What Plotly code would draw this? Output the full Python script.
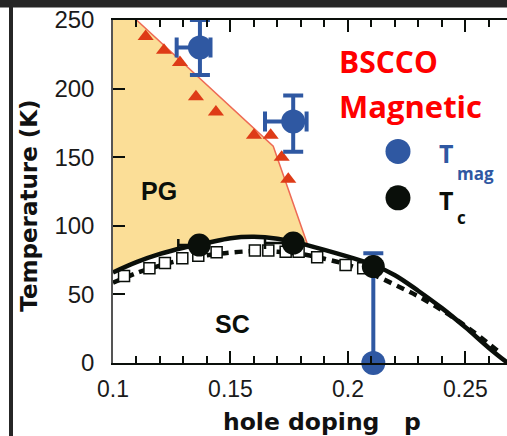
import plotly.graph_objects as go

# ---- data -------------------------------------------------------------
# pseudogap boundary (red line) and the triangle points along it
pg_line_p = [0.110, 0.1682, 0.1831]
pg_line_T = [250, 158, 85]
tri_p = [0.1139, 0.1217, 0.1285, 0.1353, 0.1438, 0.1600, 0.1671, 0.1718, 0.1746]
tri_T = [238, 228, 219, 194, 183, 166, 166, 150, 134]

# superconducting dome (solid) and the dashed Tc curve with open squares
dome_p = [0.100, 0.110, 0.120, 0.130, 0.140, 0.150, 0.160, 0.170, 0.180,
          0.190, 0.200, 0.210, 0.220, 0.230, 0.240, 0.250, 0.260, 0.268]
dome_T = [66, 73.5, 79.5, 84, 87.5, 91, 92, 90.5, 87,
          82.5, 77.5, 72, 64, 52.5, 40, 26, 11, 0]
dash_p = [0.100, 0.110, 0.120, 0.130, 0.140, 0.150, 0.160, 0.170, 0.180,
          0.190, 0.200, 0.210, 0.220, 0.230, 0.240, 0.250, 0.260, 0.265]
dash_T = [58.5, 65.5, 71, 75.5, 78.5, 80.5, 81.5, 81, 79.5,
          76, 71.5, 65, 57, 48.5, 38.5, 27, 14, 7]
sq_p = [0.1047, 0.1155, 0.1221, 0.1295, 0.1363, 0.1441, 0.1604,
        0.1661, 0.1735, 0.1790, 0.1869, 0.1990, 0.2065]
sq_T = [63.5, 69, 72.8, 76.4, 78.1, 80.8, 82, 82, 81, 81, 77, 71.5, 69]

# magnetic transition (blue) with error bars
mag_p = [0.137, 0.1767, 0.2108]
mag_T = [230, 176, 0]
mag_T_up = [20, 19, 80]
mag_T_dn = [20, 22, 0]
mag_p_right = [0.0045, 0.0057, 0]
mag_p_left = [0.0099, 0.012, 0]

# superconducting Tc (black)
tc_p = [0.1367, 0.1767, 0.2108]
tc_T = [86, 87.4, 70.3]
tc_p_left = [0.0089, 0.012, 0]

x_ticks = [0.1, 0.15, 0.2, 0.25]
x_ticktext = ["0.1", "0.15", "0.2", "0.25"]
y_ticks = [0, 50, 100, 150, 200, 250]

# ---- colours ----------------------------------------------------------
PG_FILL = "#FBDE97"
RED_LINE = "#EE6A55"
RED_TRI = "#DE3B17"
BLUE = "#2F58A2"
BLACK = "#0A0F0A"

fig = go.Figure()

# pseudogap region: from the left edge, under the red boundary, down to the dome
poly_x = [0.1] + pg_line_p + [p for p in reversed(dome_p) if p < pg_line_p[-1]]
poly_y = [250] + pg_line_T + [t for p, t in zip(reversed(dome_p), reversed(dome_T)) if p < pg_line_p[-1]]
fig.add_trace(go.Scatter(x=poly_x, y=poly_y, fill="toself", fillcolor=PG_FILL,
                         mode="lines", line=dict(width=0), hoverinfo="skip"))

fig.add_trace(go.Scatter(x=pg_line_p, y=pg_line_T, mode="lines",
                         line=dict(color=RED_LINE, width=1.5)))
fig.add_trace(go.Scatter(x=tri_p, y=tri_T, mode="markers",
                         marker=dict(symbol="triangle-up", size=14, color=RED_TRI)))

fig.add_trace(go.Scatter(x=dash_p, y=dash_T, mode="lines",
                         line=dict(color=BLACK, width=4.5, dash="8px,6px", shape="spline")))
fig.add_trace(go.Scatter(x=sq_p, y=sq_T, mode="markers",
                         marker=dict(symbol="square", size=11, color="white",
                                     line=dict(color=BLACK, width=1.5))))
fig.add_trace(go.Scatter(x=dome_p, y=dome_T, mode="lines",
                         line=dict(color=BLACK, width=4.5, shape="spline")))

fig.add_trace(go.Scatter(
    x=mag_p, y=mag_T, mode="markers", cliponaxis=False,
    marker=dict(size=24, color=BLUE),
    error_y=dict(type="data", symmetric=False, array=mag_T_up, arrayminus=mag_T_dn,
                 color=BLUE, thickness=4, width=10),
    error_x=dict(type="data", symmetric=False, array=mag_p_right, arrayminus=mag_p_left,
                 color=BLUE, thickness=4, width=10)))

fig.add_trace(go.Scatter(
    x=tc_p, y=tc_T, mode="markers", cliponaxis=False,
    marker=dict(size=23, color=BLACK),
    error_x=dict(type="data", symmetric=False, array=[0, 0, 0], arrayminus=tc_p_left,
                 color=BLACK, thickness=2.5, width=6)))

# ---- legend drawn by hand --------------------------------------------
for yc, col in [(154.2, BLUE), (120.4, BLACK)]:
    fig.add_shape(type="circle", xref="x", yref="y", xsizemode="pixel", ysizemode="pixel",
                  xanchor=0.2213, yanchor=yc, x0=-12.5, x1=12.5, y0=-12.5, y1=12.5,
                  fillcolor=col, line=dict(width=0))

def label(x, y, text, size, color, family="Open Sans", anchor="center"):
    fig.add_annotation(x=x, y=y, xref="x", yref="y", text=text, showarrow=False,
                       font=dict(family=family, size=size, color=color, weight="bold"),
                       xanchor=anchor, yanchor="middle")

label(0.2419, 153.3, "T", 25, BLUE)
label(0.2545, 138.0, "mag", 17, BLUE)
label(0.2419, 119.0, "T", 25, BLACK)
label(0.2484, 106.0, "c", 17, BLACK)

label(0.1955, 220.0, "BSCCO", 30, "#FF0000", anchor="left")
label(0.1955, 187.0, "Magnetic", 31, "#FF0000", anchor="left")

label(0.1196, 125.5, "PG", 25, BLACK, family="Liberation Sans")
label(0.1509, 28.5, "SC", 25, BLACK, family="Liberation Sans")

# axis titles
fig.add_annotation(xref="paper", yref="paper", x=0.53, y=-0.171,
                   text="hole doping&nbsp;&nbsp;&nbsp;p", showarrow=False,
                   font=dict(family="DejaVu Sans", size=23.5, color="#111", weight="bold"),
                   xanchor="center", yanchor="middle")
fig.add_annotation(xref="paper", yref="paper", x=-0.212, y=0.46,
                   text="Temperature (K)", showarrow=False, textangle=-90,
                   font=dict(family="DejaVu Sans", size=23, color="#111", weight="bold"),
                   xanchor="center", yanchor="middle")

# slide frame bars around the chart
fig.add_shape(type="rect", xref="paper", yref="paper", x0=-0.3, x1=1.05,
              y0=1 + 12.5 / 343, y1=1.1, fillcolor="#262626", line=dict(width=0))
fig.add_shape(type="rect", xref="paper", yref="paper", x0=(9 - 113) / 394, x1=(13 - 113) / 394,
              y0=-0.3, y1=1.05, fillcolor="#262626", line=dict(width=0))

tick_font = dict(family="Liberation Sans", size=23, color="#1a1a1a")
fig.update_xaxes(range=[0.1, 0.2677], tickvals=x_ticks, ticktext=x_ticktext,
                 ticks="inside", ticklen=12, tickwidth=1.5, tickcolor=BLACK,
                 minor=dict(dtick=0.01, ticks="inside", ticklen=7, tickwidth=1.5, tickcolor=BLACK),
                 showline=True, linecolor=BLACK, linewidth=2, mirror="ticks",
                 showgrid=False, zeroline=False, tickfont=tick_font, ticklabelstandoff=4)
fig.update_yaxes(range=[0, 250], tickvals=y_ticks,
                 ticks="inside", ticklen=12, tickwidth=1.5, tickcolor=BLACK,
                 showline=True, linecolor="#555", linewidth=1.5, mirror=False,
                 showgrid=False, zeroline=False,
                 tickfont=dict(family="Liberation Sans", size=24, color="#1a1a1a"),
                 ticklabelstandoff=12)

fig.update_layout(width=507, height=436, margin=dict(l=113, r=0, t=20, b=73),
                  plot_bgcolor="white", paper_bgcolor="white", showlegend=False)

fig.write_html("out.html")
